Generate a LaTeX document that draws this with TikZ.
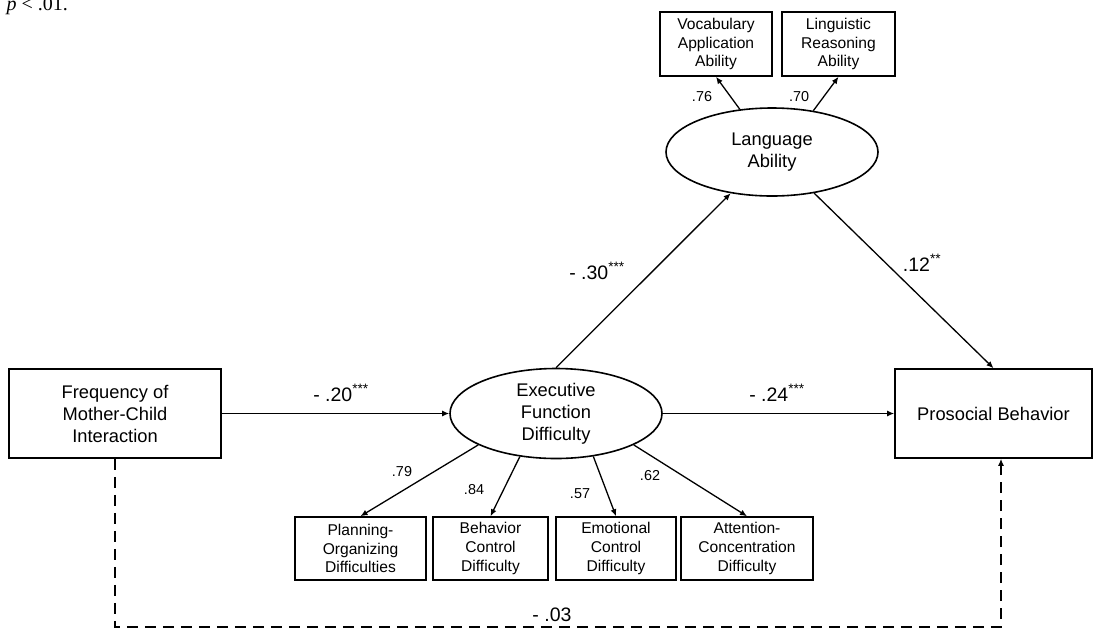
\documentclass[tikz,border=0pt]{standalone}
\usepackage{fontspec}
\setmainfont{Liberation Serif}
\setsansfont{Liberation Sans}
\usetikzlibrary{shapes.geometric,arrows.meta}

\begin{document}
\begin{tikzpicture}[x=1pt, y=-1pt,
    >={Latex[length=7pt,width=6pt]},
    obs/.style={draw, line width=1.6pt, inner sep=0pt, align=center,
                font=\sffamily\fontsize{18.3}{22}\selectfont},
    lat/.style={obs, ellipse},
    ind/.style={draw, line width=1.6pt, inner sep=0pt, align=center,
                minimum height=63pt,
                font=\sffamily\fontsize{15.6}{18.7}\selectfont},
    arr/.style={->, line width=1.3pt},
    coef/.style={anchor=base, font=\sffamily\fontsize{19.5}{22}\selectfont},
    load/.style={font=\sffamily\fontsize{14.4}{16}\selectfont},
  ]
    \useasboundingbox (0,0) rectangle (1095,630);

    % note line cut at the top
    \node[anchor=base west, font=\fontsize{20}{24}\selectfont] (note) at (3,10)
      {\textit{p} < .01.};

    % main variables
    \node[obs, minimum width=212pt, minimum height=89pt] (freq) at (115,413.5)
      {Frequency of\\Mother-Child\\Interaction};
    \node[lat, minimum width=212pt, minimum height=90pt] (ef) at (556,413.5)
      {Executive\\Function\\Difficulty};
    \node[lat, minimum width=212pt, minimum height=88pt] (la) at (772,152)
      {Language\\Ability};
    \node[obs, minimum width=197pt, minimum height=89pt] (pro) at (993.5,413.5)
      {Prosocial Behavior};

    % indicators of language ability
    \node[ind, minimum width=112pt, minimum height=64pt] (voc) at (716,44)
      {Vocabulary\\Application\\Ability};
    \node[ind, minimum width=113pt, minimum height=64pt] (ling) at (838.5,44)
      {Linguistic\\Reasoning\\Ability};

    % indicators of executive function difficulty
    \node[ind, minimum width=131pt] (plan) at (360.5,548.5)
      {Planning-\\Organizing\\Difficulties};
    \node[ind, minimum width=115pt] (beh) at (490.5,548.5)
      {Behavior\\Control\\Difficulty};
    \node[ind, minimum width=120pt] (emo) at (616,548.5)
      {Emotional\\Control\\Difficulty};
    \node[ind, minimum width=132pt] (att) at (747,548.5)
      {Attention-\\Concentration\\Difficulty};

    % structural paths
    \draw[arr] (freq.east) -- (ef.west);
    \draw[arr] (ef.east) -- (pro.west);
    \draw[arr] (ef.north) -- (la);
    \draw[arr] (la) -- (pro.north);

    % loadings
    \draw[arr] (la.127) -- (voc.south);
    \draw[arr] (la.45) -- (ling.south);
    \draw[arr] (ef.202) -- (plan.north);
    \draw[arr] (ef.230) -- (beh.north);
    \draw[arr] (ef.311) -- (emo.north);
    \draw[arr] (ef.338) -- (att.north);

    % direct path
    \coordinate (dl) at (115,627);
    \coordinate (dr) at (1001,627);
    \draw[arr, dash pattern=on 11pt off 7pt] (freq.south) -- (dl) -- (dr)
      -- (dr |- pro.south);

    % coefficients
    \node[coef] (c20) at (341,401) {- .20\textsuperscript{***}};
    \node[coef] (c24) at (777,401) {- .24\textsuperscript{***}};
    \node[coef] (c30) at (597,279) {- .30\textsuperscript{***}};
    \node[coef] (c12) at (922,271) {.12\textsuperscript{**}};
    \node[coef] (c03) at (552,621) {- .03};

    \node[load] (l76) at (702,97) {.76};
    \node[load] (l70) at (799,97) {.70};
    \node[load] (l79) at (402,472) {.79};
    \node[load] (l84) at (474,490) {.84};
    \node[load] (l57) at (580,494) {.57};
    \node[load] (l62) at (650,476) {.62};
  \end{tikzpicture}
\end{document}
